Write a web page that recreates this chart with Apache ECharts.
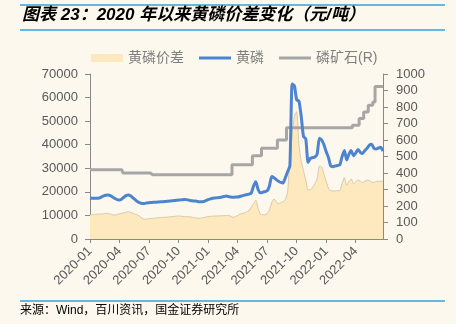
<!DOCTYPE html>
<html>
<head>
<meta charset="utf-8">
<script src="https://cdn.jsdelivr.net/npm/echarts@6/dist/echarts.min.js"></script>
<style>
  html, body { margin: 0; padding: 0; background: #fdf8ee; }
  #chart { width: 456px; height: 324px; }
</style>
</head>
<body>
<div id="chart"></div>
<script>
// Weekly observations, first week starting 2020-01-06
const startDate = '2020-01-06';
const weekCount = 130;

// 黄磷价差 (元/吨), left axis
const spread = [
  10200, 10300, 10400, 10500, 10600, 10600, 10700, 10900, 10800, 10600,
  10300, 10200, 10400, 10700, 10900, 11100, 11400, 11600, 11300, 10900,
  10500, 10200, 9500, 8800, 8400, 8500, 8600, 8700, 8800, 8900,
  9000, 9100, 9200, 9200, 9300, 9400, 9500, 9600, 9700, 9800,
  9700, 9600, 9500, 9500, 9400, 9200, 9000, 8900, 8800, 8900,
  9100, 9300, 9500, 9600, 9700, 9700, 9800, 9800, 9900, 9900,
  10000, 10000, 9600, 9200, 9500, 10000, 10500, 10800, 11100, 11500,
  12000, 13500, 15000, 16500, 13000, 10500, 10300, 10200, 10800, 12300,
  15500, 17000, 15800, 15100, 15400, 15800, 16800, 20000, 34000, 45000,
  52000, 54000, 40000, 33000, 29000, 25000, 20800, 21000, 21800, 23500,
  25500, 31000, 30500, 27500, 24500, 21500, 20500, 20400, 20400, 20500,
  20600, 23500, 26000, 22800, 24500, 25500, 23500, 24300, 25000, 24500,
  24000, 24500, 25000, 24800, 24200, 24000, 24400, 24500, 24500, 24500
];

// 黄磷 price (元/吨), left axis
const phosphorus = [
  17400, 17300, 17300, 17300, 17400, 17800, 18300, 18600, 18700, 18400,
  17800, 17200, 16700, 16500, 17000, 17800, 18500, 18700, 18200, 17400,
  16600, 15800, 15300, 15100, 15100, 15300, 15400, 15500, 15600, 15600,
  15700, 15800, 15800, 15900, 16000, 16100, 16200, 16300, 16400, 16500,
  16600, 16700, 16800, 16600, 16300, 16200, 16100, 16000, 15800, 15800,
  15900, 16300, 16700, 17000, 17300, 17400, 17500, 17600, 17800, 18000,
  18200, 18000, 17800, 17700, 17800, 17800, 18000, 18300, 18600, 18800,
  19000, 19500, 22500, 24300, 21000, 19600, 19800, 20100, 20400, 22500,
  26500, 26000, 25200, 24500, 24000, 23800, 26000, 28500, 31000, 65800,
  65000, 59000, 58500, 52000, 43500, 42500, 32500, 34200, 34500, 34800,
  36000, 42700, 42000, 40000, 37000, 34500, 31000, 30700, 31000, 31200,
  31500, 35000, 37500, 33500, 36000, 37500, 35300, 36500, 38000, 36800,
  36300, 37500, 38500, 39800, 40200, 38500, 38200, 38600, 38900, 37300
];

// 磷矿石 price (元/吨), right axis
const rock = [
  420, 420, 420, 420, 420, 420, 420, 420, 420, 420,
  420, 420, 420, 420, 420, 400, 400, 400, 400, 400,
  400, 400, 400, 400, 400, 400, 400, 390, 390, 390,
  390, 390, 390, 390, 390, 390, 390, 390, 390, 390,
  390, 390, 390, 390, 390, 390, 390, 390, 390, 390,
  390, 390, 390, 390, 390, 390, 390, 390, 390, 390,
  390, 390, 390, 450, 450, 450, 450, 450, 450, 450,
  450, 450, 505, 505, 505, 505, 550, 550, 550, 550,
  550, 550, 550, 600, 600, 600, 600, 675, 675, 675,
  675, 675, 675, 675, 675, 675, 675, 675, 675, 675,
  675, 675, 675, 675, 675, 675, 675, 675, 675, 675,
  675, 675, 675, 675, 675, 675, 690, 690, 690, 730,
  730, 770, 770, 810, 810, 830, 925, 925, 925, 925
];

const leftTicks = { min: 0, max: 70000, interval: 10000 };
const rightTicks = { min: 0, max: 1000, interval: 100 };

// Week start dates (YYYY-MM-DD); every 13th week falls at the start of a quarter
const weeks = [];
(function () {
  const d = new Date(startDate + 'T00:00:00Z');
  for (let i = 0; i < weekCount; i++) {
    weeks.push(d.toISOString().slice(0, 10));
    d.setUTCDate(d.getUTCDate() + 7);
  }
})();

const axisGrey = '#898989';
const labelGrey = '#595959';
const ruleBlue = '#2ea6e0';
const blue = '#4d84cf';
const grey = '#a6a6a6';
const cream = '#fde9bd';
const cjk = "'Liberation Sans', 'Noto Sans CJK SC', sans-serif";
// thin horizontal bar used as the legend mark of the two line series
const barIcon = 'path://M0,0 L32,0 L32,3 L0,3 Z';

const chart = echarts.init(document.getElementById('chart'), null, { renderer: 'canvas' });

chart.setOption({
  backgroundColor: '#fdf8ee',
  animation: false,
  textStyle: { fontFamily: cjk },
  graphic: [
    { type: 'line', shape: { x1: 20, y1: 5, x2: 445, y2: 5 }, style: { stroke: ruleBlue, lineWidth: 1.5 } },
    { type: 'line', shape: { x1: 20, y1: 30, x2: 445, y2: 30 }, style: { stroke: ruleBlue, lineWidth: 1.5 } },
    {
      type: 'text', left: 22, top: 7,
      style: {
        text: '图表 23：2020 年以来黄磷价差变化（元/吨）',
        font: "italic bold 17px 'Liberation Sans', 'Noto Sans CJK SC', sans-serif",
        fill: '#000'
      }
    },
    { type: 'line', shape: { x1: 20, y1: 301, x2: 445, y2: 301 }, style: { stroke: ruleBlue, lineWidth: 1.5 } },
    {
      type: 'text', left: 20, top: 305,
      style: {
        text: '来源：Wind，百川资讯，国金证券研究所',
        font: "12px 'Liberation Sans', 'Noto Sans CJK SC', sans-serif",
        fill: '#000'
      }
    }
  ],
  legend: {
    left: 86,
    top: 46,
    itemWidth: 32,
    itemHeight: 8,
    itemGap: 15,
    textStyle: { color: '#7f7f7f', fontSize: 14, fontFamily: cjk },
    data: [
      { name: '黄磷价差', icon: 'rect', itemStyle: { color: cream, borderWidth: 0 } },
      { name: '黄磷', icon: barIcon, itemStyle: { color: blue, borderWidth: 0 } },
      { name: '磷矿石(R)', icon: barIcon, itemStyle: { color: grey, borderWidth: 0 } }
    ]
  },
  grid: { left: 90, right: 73, top: 74, bottom: 85, containLabel: false },
  xAxis: {
    type: 'category',
    data: weeks,
    boundaryGap: false,
    axisLine: { lineStyle: { color: axisGrey, width: 1 } },
    axisTick: { interval: 12, length: 4, lineStyle: { color: axisGrey } },
    axisLabel: {
      interval: 12,
      rotate: 45,
      margin: 10,
      fontSize: 13,
      color: labelGrey,
      formatter: v => v.slice(0, 7)
    },
    splitLine: { show: false }
  },
  yAxis: [
    {
      type: 'value',
      min: leftTicks.min, max: leftTicks.max, interval: leftTicks.interval,
      axisLine: { show: true, lineStyle: { color: axisGrey } },
      axisTick: { show: true, length: 5, lineStyle: { color: axisGrey } },
      axisLabel: { fontSize: 13, color: labelGrey, margin: 12, formatter: v => String(v) },
      splitLine: { show: false }
    },
    {
      type: 'value',
      position: 'right',
      min: rightTicks.min, max: rightTicks.max, interval: rightTicks.interval,
      axisLine: { show: true, lineStyle: { color: axisGrey } },
      axisTick: { show: true, length: 5, lineStyle: { color: axisGrey } },
      axisLabel: { fontSize: 13, color: labelGrey, margin: 13, formatter: v => String(v) },
      splitLine: { show: false }
    }
  ],
  series: [
    {
      name: '黄磷价差',
      type: 'line',
      yAxisIndex: 0,
      data: spread,
      symbol: 'none',
      smooth: 0.2,
      lineStyle: { color: '#cdbfa5', width: 0.8 },
      itemStyle: { color: cream },
      areaStyle: { color: cream, opacity: 1 },
      z: 1
    },
    {
      name: '黄磷',
      type: 'line',
      yAxisIndex: 0,
      data: phosphorus,
      symbol: 'none',
      smooth: 0.2,
      lineStyle: { color: blue, width: 3 },
      itemStyle: { color: blue },
      z: 3
    },
    {
      name: '磷矿石(R)',
      type: 'line',
      yAxisIndex: 1,
      data: rock,
      symbol: 'none',
      step: 'middle',
      lineStyle: { color: grey, width: 3 },
      itemStyle: { color: grey },
      z: 2
    }
  ]
});
</script>
</body>
</html>
